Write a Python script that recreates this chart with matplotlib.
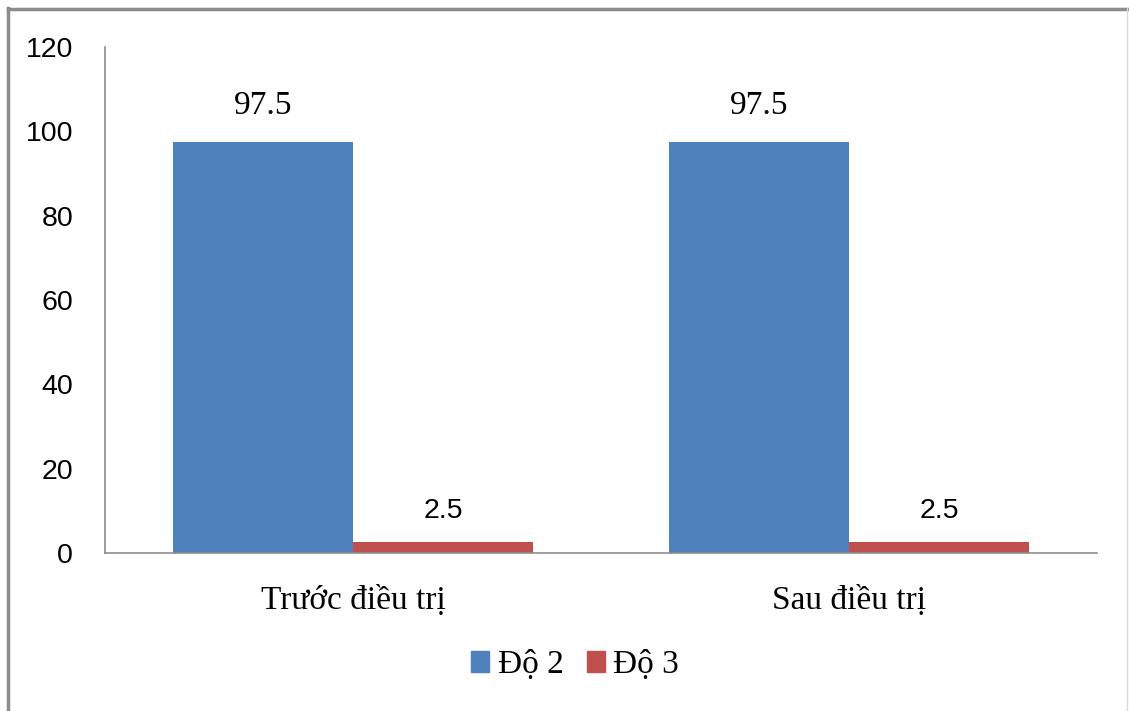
import matplotlib
matplotlib.use('Agg')
import matplotlib.pyplot as plt
from matplotlib.patches import Rectangle
from matplotlib.lines import Line2D
import numpy as np

categories = ['Trước điều trị', 'Sau điều trị']
series_names = ['Độ 2', 'Độ 3']
do2 = [97.5, 97.5]
do3 = [2.5, 2.5]
yticks = [0, 20, 40, 60, 80, 100, 120]

blue = '#4F81BD'
red = '#C0504D'
serif = 'Liberation Serif'
sans = 'Liberation Sans'

fig = plt.figure(figsize=(11.29, 7.11), dpi=100)
ax = fig.add_axes([105 / 1129, 1 - 553 / 711, 992 / 1129, 506 / 711])

x = np.arange(len(categories))
w = 0.363
b2 = ax.bar(x - w / 2, do2, w, color=blue, label=series_names[0], zorder=2)
b3 = ax.bar(x + w / 2, do3, w, color=red, label=series_names[1], zorder=2)

for rect, v in zip(b2, do2):
    ax.text(rect.get_x() + rect.get_width() / 2, v + 8.6, str(v), ha='center',
            va='center', fontsize=24, family=serif)
for rect, v in zip(b3, do3):
    ax.text(rect.get_x() + rect.get_width() / 2, v + 7.5, str(v), ha='center',
            va='center', fontsize=20.5, family=sans)

ax.set_xlim(-0.5, 1.5)
ax.set_ylim(0, 120)
ax.set_yticks(yticks)
ax.set_yticklabels([str(t) for t in yticks], family=sans, fontsize=20.5)
ax.set_xticks(x)
ax.set_xticklabels(categories, family=serif, fontsize=24)
ax.tick_params(axis='both', length=0)
ax.tick_params(axis='y', pad=23)
ax.tick_params(axis='x', pad=23)

for s in ['top', 'right']:
    ax.spines[s].set_visible(False)
for s in ['left', 'bottom']:
    ax.spines[s].set_color('#8C8C8C')
    ax.spines[s].set_linewidth(1.2)

handles = [Rectangle((0, 0), 1, 1, color=blue), Rectangle((0, 0), 1, 1, color=red)]
fig.legend(handles, series_names, loc='center', bbox_to_anchor=(575 / 1129, 1 - 665 / 711),
           ncol=2, frameon=False, prop={'family': serif, 'size': 24},
           handlelength=0.55, handleheight=0.55, handletextpad=0.25, columnspacing=0.7)

# outer frame around the chart area
fig.add_artist(Line2D([7.5 / 1129, 7.5 / 1129], [0, 1 - 8 / 711], transform=fig.transFigure,
                      color='#8C8C8C', lw=2.5))
fig.add_artist(Line2D([7.5 / 1129, 1], [1 - 8.5 / 711, 1 - 8.5 / 711], transform=fig.transFigure,
                      color='#8C8C8C', lw=2.5))
fig.add_artist(Line2D([1127 / 1129, 1127 / 1129], [0, 1 - 8 / 711], transform=fig.transFigure,
                      color='#D9D9D9', lw=1))

fig.savefig('out.png', dpi=100)
